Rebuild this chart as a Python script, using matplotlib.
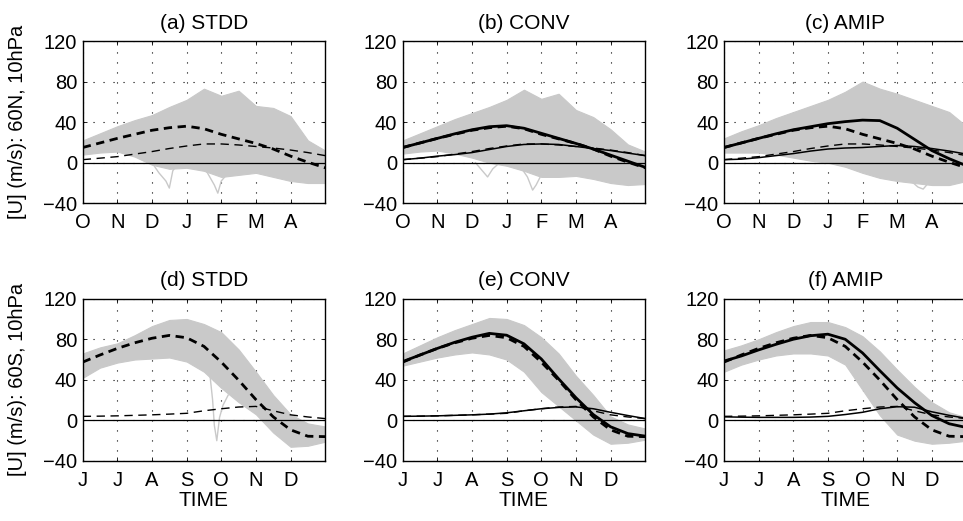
import numpy as np
import matplotlib
matplotlib.use('Agg')
import matplotlib.pyplot as plt

plt.rcParams['font.family'] = ['Liberation Sans', 'DejaVu Sans']

# month index grid (0 = first month on axis, 7 = end)
months = [0, 0.5, 1, 1.5, 2, 2.5, 3, 3.5, 4, 4.5, 5, 5.5, 6, 6.5, 7]
nh_ticks = ['O', 'N', 'D', 'J', 'F', 'M', 'A']
sh_ticks = ['J', 'J', 'A', 'S', 'O', 'N', 'D']

# observed climatology (dashed), 60N and 60S
nh_obs_mean = [15, 19.5, 24, 28, 32, 34.5, 36, 33.5, 28, 23.5, 19, 13.5, 6.5, 0.5, -5]
nh_obs_std = [3, 4.5, 6, 8.5, 11, 14, 16.5, 18.5, 18.5, 17.5, 16, 14.5, 12.5, 10, 7]
sh_obs_mean = [57.5, 64.5, 71, 76.5, 81, 83.8, 81.5, 73, 57.5, 39.7, 20.5, 3.5, -9.3, -15.6, -16]
sh_obs_std = [4, 4.2, 4.5, 5, 5.5, 6.2, 7, 9.5, 11.5, 13.2, 13.8, 9.5, 5.5, 3.4, 1.8]

# model ensemble mean / std (solid)
conv_nh_mean = [15, 19.5, 24, 28.5, 32.5, 35.5, 36.5, 34, 29, 24, 19, 13.5, 7.5, 1.5, -4.5]
conv_nh_std = [3, 4.5, 6.5, 8, 10, 13, 16, 18, 18.5, 18, 16, 14, 12, 9.5, 7]
amip_nh_mean = [15, 19.5, 24, 28.5, 32.5, 35.5, 38.5, 40.5, 42, 41.5, 34, 23, 12, 4, -3]
amip_nh_std = [3, 3.5, 5, 7, 9, 11.5, 13.5, 14.5, 15, 16, 17, 16, 14, 11.5, 8.5]
conv_sh_mean = [58, 64.5, 71, 77, 82, 85.8, 84, 75.5, 60.6, 41, 22.4, 5.8, -6.3, -13, -15.5]
conv_sh_std = [4, 4.2, 4.5, 5, 5.5, 6.2, 7.5, 9.5, 11.5, 12.8, 13.3, 11.5, 8, 4.8, 1.8]
amip_sh_mean = [58.5, 63.5, 69.5, 75, 80, 83.5, 85, 80, 66.5, 49, 32, 17.5, 4.8, -3.3, -7]
amip_sh_std = [3.5, 3.2, 3, 3, 3, 3.3, 4, 5.8, 8, 11.5, 13.5, 13, 8.5, 5, 2]

# spread of the individual years (grey), upper / lower envelope
a_up = [22, 29, 36, 42, 47, 55, 62, 73, 66, 71, 56, 54, 46, 22, 12]
a_lo = [8, 10, 11, 6, -2, -6, -5, -8, -14, -12, -10, -14, -18, -20, -20]
b_up = [22, 29, 36, 43, 49, 55, 62, 72, 63, 68, 52, 45, 33, 18, 11]
b_lo = [9, 11, 12, 9, 5, 0, -3, -8, -14, -14, -13, -16, -20, -22, -21]
c_up = [24, 31, 37, 44, 50, 56, 62, 70, 80, 73, 68, 62, 56, 50, 36]
c_lo = [10, 10, 10, 8, 5, 2, 0, -4, -10, -15, -18, -20, -22, -22, -18]
d_up = [66, 72, 76, 84, 93, 99, 100, 95, 87, 70, 48, 25, 6, -3, -6]
d_lo = [42, 52, 57, 60, 61, 62, 58, 48, 32, 18, 6, -12, -26, -25, -21]
e_up = [66, 74, 82, 89, 95, 101, 100, 94, 82, 66, 44, 25, 4, -4, -8]
e_lo = [54, 58, 62, 65, 67, 65, 60, 48, 28, 14, 0, -14, -23, -22, -19]
f_up = [69, 74, 80, 87, 93, 97, 97, 92, 83, 68, 50, 33, 18, 8, 3]
f_lo = [48, 55, 60, 64, 66, 66, 64, 55, 30, 5, -14, -20, -23, -22, -20]

# a few outlying years
a_sp1_x = [2.0, 2.2, 2.4, 2.5, 2.6, 2.8]
a_sp1_y = [0, -10, -18, -25, -8, 2]
a_sp2_x = [3.4, 3.6, 3.8, 3.9, 4.0, 4.2, 4.4]
a_sp2_y = [-2, -10, -22, -30, -18, -10, -5]
b_sp1_x = [2.1, 2.3, 2.45, 2.6, 2.8]
b_sp1_y = [0, -8, -14, -6, 0]
b_sp2_x = [3.4, 3.6, 3.75, 3.85, 4.0, 4.2]
b_sp2_y = [-4, -14, -27, -22, -12, -6]
c_sp_x = [5.2, 5.4, 5.6, 5.75, 5.9, 6.1]
c_sp_y = [-12, -18, -24, -26, -20, -15]
d_sp_x = [3.5, 3.65, 3.75, 3.8, 3.87, 3.95, 4.05, 4.2]
d_sp_y = [68, 52, 20, -5, -20, 3, 15, 25]

grey = '#c9c9c9'

panels = [
    ('(a) STDD', a_up, a_lo, [(a_sp1_x, a_sp1_y), (a_sp2_x, a_sp2_y)], None, None, 'N'),
    ('(b) CONV', b_up, b_lo, [(b_sp1_x, b_sp1_y), (b_sp2_x, b_sp2_y)], conv_nh_mean, conv_nh_std, 'N'),
    ('(c) AMIP', c_up, c_lo, [(c_sp_x, c_sp_y)], amip_nh_mean, amip_nh_std, 'N'),
    ('(d) STDD', d_up, d_lo, [(d_sp_x, d_sp_y)], None, None, 'S'),
    ('(e) CONV', e_up, e_lo, [], conv_sh_mean, conv_sh_std, 'S'),
    ('(f) AMIP', f_up, f_lo, [], amip_sh_mean, amip_sh_std, 'S'),
]

fig = plt.figure(figsize=(9.63, 5.21), dpi=100)
lefts = [0.0859, 0.4182, 0.7518]
bottoms = [0.6098, 0.1152]

for i, (title, up, lo, spikes, mod_mean, mod_std, hemi) in enumerate(panels):
    ax = fig.add_axes([lefts[i % 3], bottoms[i // 3], 0.2518, 0.3115])

    ax.fill_between(months, lo, up, color=grey, lw=0.8, zorder=1)
    for sx, sy in spikes:
        ax.plot(sx, sy, color=grey, lw=1.0, zorder=1)

    ax.axhline(0, color='k', lw=0.9, zorder=2)

    if hemi == 'N':
        obs_mean, obs_std = nh_obs_mean, nh_obs_std
    else:
        obs_mean, obs_std = sh_obs_mean, sh_obs_std

    ax.plot(months, obs_mean, color='k', lw=2.0, dashes=(3, 2), zorder=4)
    ax.plot(months, obs_std, color='k', lw=1.0, dashes=(6, 4), zorder=3)
    if mod_mean is not None:
        ax.plot(months, mod_mean, color='k', lw=2.0, zorder=5)
        ax.plot(months, mod_std, color='k', lw=1.1, zorder=5)

    ax.set_xlim(0, 7)
    ax.set_ylim(-40, 120)
    ax.set_yticks([-40, 0, 40, 80, 120])
    ax.set_xticks(range(7))
    ax.set_xticklabels(nh_ticks if hemi == 'N' else sh_ticks)
    ax.set_axisbelow(True)
    ax.grid(True, color='k', lw=0.8, linestyle=(0, (1, 8)))
    ax.tick_params(direction='in', top=True, right=True, length=3, width=0.6,
                   labelsize=14.5)
    ax.tick_params(axis='x', pad=7)
    ax.tick_params(axis='y', pad=4)
    for sp in ax.spines.values():
        sp.set_linewidth(1.0)
    ax.set_title(title, fontsize=15, pad=9)

    if i % 3 == 0:
        if hemi == 'N':
            ax.set_ylabel('[U] (m/s): 60N, 10hPa', fontsize=14.5)
        else:
            ax.set_ylabel('[U] (m/s): 60S, 10hPa', fontsize=14.5)
        ax.yaxis.set_label_coords(-0.23, 0.5)
    if hemi == 'S':
        ax.set_xlabel('TIME', fontsize=15, labelpad=1)

fig.savefig('out.png', dpi=100)
